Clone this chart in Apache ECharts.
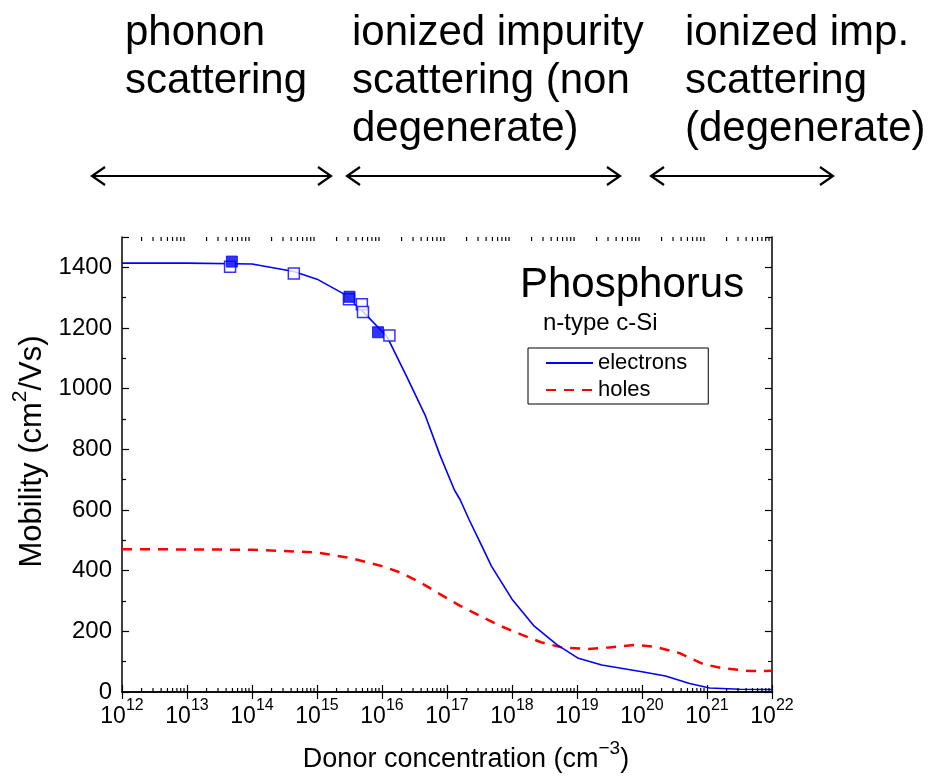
<!DOCTYPE html>
<html>
<head>
<meta charset="utf-8">
<script src="https://cdn.jsdelivr.net/npm/echarts@6/dist/echarts.min.js"></script>
<style>
html,body{margin:0;padding:0;background:#fff;}
#chart{width:943px;height:783px;}
</style>
</head>
<body>
<div id="chart"></div>
<script>
// Donor concentration (cm^-3) and mobility (cm^2/Vs)
const electronConc = [1e12, 1e13, 1e14, 4.4e14, 1e15, 2.5e15, 5.1e15, 1.2e16, 2.4e16, 4.6e16, 7.8e16, 1.3e17, 1.6e17, 2.2e17, 3.3e17, 4.8e17, 1.0e18, 2.2e18, 4.9e18, 1.05e19, 2.4e19, 1e20, 2.3e20, 5.4e20, 1.1e21, 3.2e21, 1e22];
const electronMob  = [1414, 1414, 1411, 1386, 1361, 1314, 1254, 1171, 1040, 913, 781, 666, 633, 567, 489, 416, 306, 217, 156, 111, 89, 67, 53, 28, 13, 9, 8];

const holeConc = [1e12, 1e13, 1e14, 1e15, 3.2e15, 1e16, 1.9e16, 3.9e16, 7.9e16, 1.6e17, 3.3e17, 6.8e17, 1.4e18, 2.8e18, 5.8e18, 1.5e19, 3.1e19, 7.9e19, 1.6e20, 3.8e20, 8.7e20, 1.8e21, 4.6e21, 1e22];
const holeMob  = [471, 470, 469, 460, 442, 415, 394, 361, 322, 284, 250, 217, 189, 164, 147, 142, 147, 155, 149, 128, 92, 78, 69, 70];

const openConc = [4.6e13, 4.4e14, 3.1e15, 4.9e15, 5.1e15, 1.3e16];
const openMob  = [1402, 1380, 1295, 1278, 1253, 1175];

const filledConc = [4.9e13, 3.16e15, 8.7e15];
const filledMob  = [1419, 1303, 1186];

const xExponents = [12, 13, 14, 15, 16, 17, 18, 19, 20, 21, 22];
const yTicks = [0, 200, 400, 600, 800, 1000, 1200, 1400];

const headers = [
  {x: 125, lines: ['phonon', 'scattering']},
  {x: 352, lines: ['ionized impurity', 'scattering (non', 'degenerate)']},
  {x: 685, lines: ['ionized imp.', 'scattering', '(degenerate)']}
];
const arrows = [[92, 331], [347, 620], [651, 833]];

const FONT = '"Liberation Sans", Arial, Helvetica, sans-serif';
const zip = (a, b) => a.map((v, i) => [v, b[i]]);

// log minor tick positions
const minorTicks = [];
for (let e = xExponents[0]; e < xExponents[xExponents.length - 1]; e++) {
  for (let k = 2; k <= 9; k++) minorTicks.push([k * Math.pow(10, e), 0]);
}

const chart = echarts.init(document.getElementById('chart'), null, {renderer: 'canvas'});

const supRich = {
  b: {fontSize: 23, fontFamily: FONT, color: '#000', lineHeight: 30, verticalAlign: 'bottom'},
  s: {fontSize: 16, fontFamily: FONT, color: '#000', lineHeight: 16, verticalAlign: 'top'}
};
const xTitleRich = {
  a: {fontSize: 27, fontFamily: FONT, color: '#000', lineHeight: 34, verticalAlign: 'bottom'},
  s: {fontSize: 19, fontFamily: FONT, color: '#000', lineHeight: 19, verticalAlign: 'top'}
};
const yTitleRich = {
  a: {fontSize: 31, fontFamily: FONT, color: '#000', lineHeight: 38, verticalAlign: 'bottom'},
  s: {fontSize: 21, fontFamily: FONT, color: '#000', lineHeight: 21, verticalAlign: 'top'}
};

const axisLineStyle = {color: '#000', width: 1.5};

const graphics = [];
const ARROW_Y = 176;
arrows.forEach(([x1, x2]) => {
  graphics.push({type: 'line', shape: {x1: x1, y1: ARROW_Y, x2: x2, y2: ARROW_Y}, style: {stroke: '#000', lineWidth: 2.2}});
  graphics.push({type: 'polyline', shape: {points: [[x1 + 13, ARROW_Y - 9], [x1, ARROW_Y], [x1 + 13, ARROW_Y + 9]]}, style: {stroke: '#000', lineWidth: 2.2, fill: null}});
  graphics.push({type: 'polyline', shape: {points: [[x2 - 13, ARROW_Y - 9], [x2, ARROW_Y], [x2 - 13, ARROW_Y + 9]]}, style: {stroke: '#000', lineWidth: 2.2, fill: null}});
});
headers.forEach(h => {
  graphics.push({type: 'text', left: h.x, top: 9, style: {text: h.lines.join('\n'), font: '42px ' + FONT, fill: '#000', lineHeight: 48}});
});
graphics.push({type: 'text', left: 520, top: 264, style: {text: 'Phosphorus', font: '42px ' + FONT, fill: '#000'}});
graphics.push({type: 'text', left: 543, top: 311, style: {text: 'n-type c-Si', font: '24px ' + FONT, fill: '#000'}});

const option = {
  animation: false,
  backgroundColor: '#fff',
  grid: {left: 122, top: 237, width: 650, height: 455, containLabel: false},
  legend: {
    data: ['electrons', 'holes'],
    orient: 'vertical',
    left: 528, top: 348,
    backgroundColor: '#fff',
    borderColor: '#000', borderWidth: 1,
    padding: [4, 21, 3, 17],
    itemWidth: 47, itemHeight: 14, itemGap: 5,
    itemStyle: {opacity: 0},
    textStyle: {fontSize: 22, fontFamily: FONT, color: '#000'},
    selectedMode: false
  },
  xAxis: [
    {
      type: 'log', logBase: 10, min: 1e12, max: 1e22, interval: 1, splitNumber: 10, position: 'bottom',
      name: '{a|Donor concentration (cm}{s|\u22123}{a|)}',
      nameLocation: 'middle', nameGap: 47,
      nameTextStyle: {rich: xTitleRich, padding: [0, 0, 0, 38]},
      axisLine: {show: true, lineStyle: axisLineStyle},
      axisTick: {show: true, inside: true, length: 7, lineStyle: {color: '#000', width: 1.2}},
      axisLabel: {
        margin: 6, hideOverlap: false,
        formatter: v => '{b|10}{s|' + Math.round(Math.log10(v)) + '}',
        rich: supRich
      },
      splitLine: {show: false}
    },
    {
      type: 'log', logBase: 10, min: 1e12, max: 1e22, interval: 1, splitNumber: 10, position: 'top',
      axisLine: {show: true, lineStyle: axisLineStyle},
      axisTick: {show: true, inside: true, length: 7, lineStyle: {color: '#000', width: 1.2}},
      axisLabel: {show: false},
      splitLine: {show: false}
    }
  ],
  yAxis: [
    {
      type: 'value', min: 0, max: 1500, interval: 200, position: 'left',
      name: '{a|Mobility (cm}{s|2}{a|/Vs)}',
      nameLocation: 'middle', nameGap: 62,
      nameTextStyle: {rich: yTitleRich, padding: [0, 0, 0, 26]},
      axisLine: {show: true, lineStyle: axisLineStyle},
      axisTick: {show: true, inside: true, length: 7, lineStyle: {color: '#000', width: 1.2}},
      minorTick: {show: true, splitNumber: 2, length: 4, lineStyle: {color: '#000', width: 1.2}},
      axisLabel: {
        margin: 10, fontSize: 24, fontFamily: FONT, color: '#000', showMaxLabel: false,
        formatter: v => (yTicks.indexOf(v) >= 0 ? String(v) : '')
      },
      splitLine: {show: false}
    },
    {
      type: 'value', min: 0, max: 1500, interval: 200, position: 'right',
      axisLine: {show: true, lineStyle: axisLineStyle},
      axisTick: {show: true, inside: true, length: 7, lineStyle: {color: '#000', width: 1.2}},
      minorTick: {show: true, splitNumber: 2, length: 4, lineStyle: {color: '#000', width: 1.2}},
      axisLabel: {show: false},
      splitLine: {show: false}
    }
  ],
  graphic: graphics,
  series: [
    {
      name: 'minor', type: 'custom', xAxisIndex: 0, yAxisIndex: 0, silent: true, z: 5,
      data: minorTicks,
      renderItem: (params, api) => {
        const x = api.coord([api.value(0), 0])[0];
        const cs = params.coordSys;
        const top = cs.y, bottom = cs.y + cs.height;
        return {
          type: 'group', children: [
            {type: 'line', shape: {x1: x, y1: bottom, x2: x, y2: bottom - 4}, style: {stroke: '#000', lineWidth: 1.2}},
            {type: 'line', shape: {x1: x, y1: top, x2: x, y2: top + 4}, style: {stroke: '#000', lineWidth: 1.2}}
          ]
        };
      }
    },
    {
      name: 'holes', type: 'line', data: zip(holeConc, holeMob), symbol: 'none', z: 2,
      lineStyle: {color: '#ff0000', width: 2.5, type: [10, 8]}, itemStyle: {color: '#ff0000'}
    },
    {
      name: 'electrons', type: 'line', data: zip(electronConc, electronMob), symbol: 'none', z: 3,
      lineStyle: {color: '#0000ff', width: 1.6}, itemStyle: {color: '#0000ff'}
    },
    {
      name: 'open', type: 'scatter', data: zip(openConc, openMob), symbol: 'rect', symbolSize: 11, z: 4,
      itemStyle: {color: '#fff', borderColor: '#0000ff', borderWidth: 1.5}
    },
    {
      name: 'filled', type: 'scatter', data: zip(filledConc, filledMob), symbol: 'rect', symbolSize: 11, z: 5,
      itemStyle: {color: '#0000ff', borderColor: '#0000ff', borderWidth: 1}
    }
  ]
};
chart.setOption(option);
</script>
</body>
</html>
